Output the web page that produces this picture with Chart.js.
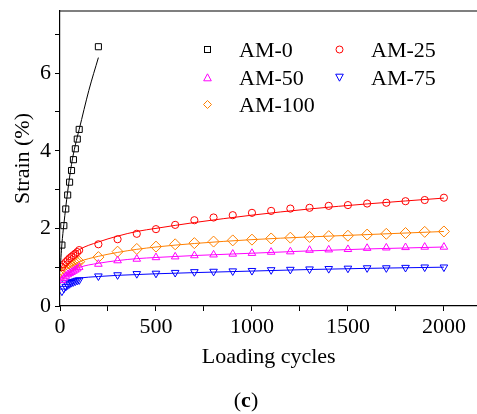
<!DOCTYPE html>
<html>
<head>
<meta charset="utf-8">
<script src="https://cdn.jsdelivr.net/npm/chart.js@4"></script>
<style>
  body { margin: 0; background: #fff; }
  .wrap { position: relative; width: 477px; height: 414px; overflow: hidden; }
  canvas { position: absolute; left: 0; top: 0; }
  .legend { position: absolute; font-family: 'Liberation Serif', serif; font-size: 22px; color: #000; }
  .item { position: absolute; white-space: nowrap; line-height: 22px; }
  .item svg { position: absolute; left: 0; top: 6px; }
  .item span { position: absolute; left: 36px; top: 0; }
  .caption { position: absolute; left: 0; width: 492px; top: 387px; text-align: center;
    font-family: 'Liberation Serif', serif; font-size: 22px; }
</style>
</head>
<body>
<div class="wrap">
  <canvas id="myChart" width="484" height="414"></canvas>
  <div class="legend" id="legend"></div>
  <div class="caption">(<b>c</b>)</div>
</div>
<script>
// measured cycles
const cyclesEarly = [10, 20, 30, 40, 50, 60, 70, 80, 90, 100]
const cyclesAll = [10, 20, 30, 40, 50, 60, 70, 80, 90, 100, 200, 300, 400, 500, 600, 700, 800, 900, 1000,
  1100, 1200, 1300, 1400, 1500, 1600, 1700, 1800, 1900, 2000]
const cyclesAM0 = cyclesEarly.concat([200])

// strain (%) per mix
const strainAM0 = [1.57, 2.07, 2.5, 2.86, 3.19, 3.49, 3.77, 4.05, 4.3, 4.55, 6.68]
const strainAM25 = [1.0, 1.07, 1.13, 1.18, 1.23, 1.27, 1.31, 1.35, 1.39, 1.44,
  1.59, 1.72, 1.86, 1.98, 2.09, 2.21, 2.28, 2.34, 2.40, 2.45, 2.51, 2.53, 2.58, 2.60, 2.64, 2.66, 2.70, 2.73, 2.79]
const strainAM50 = [0.66, 0.72, 0.77, 0.81, 0.84, 0.87, 0.90, 0.93, 0.96, 1.00,
  1.08, 1.17, 1.21, 1.25, 1.27, 1.30, 1.32, 1.34, 1.36, 1.39, 1.40, 1.44, 1.45, 1.46, 1.49, 1.50, 1.51, 1.52, 1.52]
const strainAM75 = [0.38, 0.45, 0.50, 0.54, 0.57, 0.60, 0.62, 0.64, 0.66, 0.67,
  0.77, 0.80, 0.83, 0.84, 0.86, 0.88, 0.89, 0.90, 0.91, 0.93, 0.94, 0.95, 0.96, 0.97, 0.98, 0.98, 0.99, 1.00, 1.00]
const strainAM100 = [0.80, 0.87, 0.92, 0.96, 1.00, 1.03, 1.06, 1.09, 1.12, 1.14,
  1.26, 1.40, 1.47, 1.53, 1.59, 1.62, 1.66, 1.69, 1.71, 1.74, 1.76, 1.78, 1.80, 1.81, 1.84, 1.86, 1.88, 1.91, 1.92]

// fitted curves
const fitX_AM0 = [1, 5, 10, 20, 40, 60, 80, 100, 150, 200]
const fitAM0 = [0.9, 1.25, 1.6, 2.1, 2.95, 3.65, 4.15, 4.55, 5.55, 6.4]
const fitX = [2, 10, 30, 50, 100, 200, 300, 400, 500, 700, 1000, 1300, 1600, 2000]
const fitAM25 = [0.93, 1.03, 1.16, 1.25, 1.45, 1.65, 1.80, 1.92, 2.00, 2.15, 2.34, 2.50, 2.63, 2.78]
const fitAM50 = [0.60, 0.68, 0.78, 0.85, 0.99, 1.10, 1.17, 1.22, 1.25, 1.30, 1.36, 1.42, 1.47, 1.52]
const fitAM75 = [0.58, 0.63, 0.66, 0.68, 0.72, 0.76, 0.79, 0.81, 0.83, 0.86, 0.90, 0.94, 0.97, 1.00]
const fitAM100 = [0.72, 0.82, 0.93, 1.00, 1.14, 1.28, 1.38, 1.46, 1.52, 1.61, 1.71, 1.78, 1.84, 1.92]

const xTicks = [0, 500, 1000, 1500, 2000]
const yTicks = [0, 2, 4, 6]

const series = [
  { label: 'AM-0', x: cyclesAM0, y: strainAM0, fx: fitX_AM0, fy: fitAM0, color: '#000000', style: 'rect', rot: 0, r: 4.3 },
  { label: 'AM-25', x: cyclesAll, y: strainAM25, fx: fitX, fy: fitAM25, color: '#ff0000', style: 'circle', rot: 0, r: 3.6 },
  { label: 'AM-50', x: cyclesAll, y: strainAM50, fx: fitX, fy: fitAM50, color: '#ff00ff', style: 'triangle', rot: 0, r: 4.4 },
  { label: 'AM-75', x: cyclesAll, y: strainAM75, fx: fitX, fy: fitAM75, color: '#0000ff', style: 'triangle', rot: 180, r: 4.4 },
  { label: 'AM-100', x: cyclesAll, y: strainAM100, fx: fitX, fy: fitAM100, color: '#ff8000', style: 'rectRot', rot: 0, r: 5.5 }
]

const toXY = (xs, ys) => xs.map((v, i) => ({ x: v, y: ys[i] }))

let datasets = []
series.forEach(s => {
  datasets.push({
    label: s.label + ' fit',
    data: toXY(s.fx, s.fy),
    showLine: true,
    borderColor: s.color,
    borderWidth: 1,
    pointRadius: 0,
    cubicInterpolationMode: 'monotone',
    fill: false
  })
  datasets.push({
    label: s.label,
    data: toXY(s.x, s.y),
    showLine: false,
    pointStyle: s.style,
    pointRotation: s.rot,
    pointRadius: s.r,
    pointBorderWidth: 1,
    pointBorderColor: s.color,
    pointBackgroundColor: 'rgba(0,0,0,0)'
  })
})

// top frame line
const topLine = {
  id: 'topLine',
  afterDraw(chart) {
    const { ctx, chartArea } = chart
    ctx.save()
    ctx.strokeStyle = '#000'
    ctx.lineWidth = 1.2
    ctx.beginPath()
    ctx.moveTo(chartArea.left, chartArea.top)
    ctx.lineTo(chartArea.right, chartArea.top)
    ctx.stroke()
    ctx.restore()
  }
}

const font = { family: "'Liberation Serif', serif", size: 22 }

function noPad(scale) {
  scale.paddingLeft = 0
  scale.paddingRight = 0
  scale.paddingTop = 0
  scale.paddingBottom = 0
}

new Chart(document.querySelector('#myChart'), {
  type: 'scatter',
  data: { datasets: datasets },
  plugins: [topLine],
  options: {
    responsive: false,
    animation: false,
    layout: { padding: { left: 10, top: 11, right: 0, bottom: 44 } },
    plugins: { legend: { display: false }, tooltip: { enabled: false } },
    scales: {
      x: {
        type: 'linear',
        min: 0,
        max: 2175,
        afterFit: (scale) => { scale.height = 64; noPad(scale) },
        border: { display: true, color: '#000', width: 1.2 },
        grid: { drawOnChartArea: false, drawTicks: true, tickLength: 5, color: '#000' },
        ticks: {
          stepSize: 250,
          includeBounds: false,
          autoSkip: false,
          maxRotation: 0,
          padding: 3,
          color: '#000',
          font: font,
          callback: (v) => xTicks.includes(v) ? String(v) : ''
        },
        title: { display: true, text: 'Loading cycles', color: '#000', font: font, padding: 0 }
      },
      y: {
        min: 0,
        max: 7.6,
        afterFit: (scale) => { scale.width = 50; noPad(scale) },
        border: { display: true, color: '#000', width: 1.2 },
        grid: { drawOnChartArea: false, drawTicks: true, tickLength: 5, color: '#000' },
        ticks: {
          stepSize: 1,
          includeBounds: false,
          autoSkip: false,
          padding: 4,
          color: '#000',
          font: font,
          callback: (v) => yTicks.includes(v) ? String(v) : ''
        },
        title: { display: true, text: 'Strain (%)', color: '#000', font: font, padding: 0 }
      }
    }
  }
})

// legend, two columns inside the plot
const legendPos = [[207, 49], [339, 49], [207, 77], [339, 77], [207, 104]]
const legendOrder = ['AM-0', 'AM-25', 'AM-50', 'AM-75', 'AM-100']
function markerSvg(s) {
  const c = s.color
  let shape = ''
  if (s.style === 'rect') shape = `<rect x="1.5" y="1.5" width="6" height="6" fill="none" stroke="${c}"/>`
  if (s.style === 'circle') shape = `<circle cx="4.5" cy="4.5" r="3.5" fill="none" stroke="${c}"/>`
  if (s.style === 'triangle' && s.rot === 0) shape = `<polygon points="4.5,0.8 8.3,7.8 0.7,7.8" fill="none" stroke="${c}"/>`
  if (s.style === 'triangle' && s.rot === 180) shape = `<polygon points="0.7,1.2 8.3,1.2 4.5,8.2" fill="none" stroke="${c}"/>`
  if (s.style === 'rectRot') shape = `<polygon points="4.5,0.5 8.5,4.5 4.5,8.5 0.5,4.5" fill="none" stroke="${c}"/>`
  return `<svg width="9" height="9">${shape}</svg>`
}
let legendHtml = ''
legendOrder.forEach((name, i) => {
  const s = series.find(d => d.label === name)
  const [lx, ly] = legendPos[i]
  legendHtml += `<div class="item" style="left:${lx - 4}px;top:${ly - 10}px">${markerSvg(s)}<span>${name}</span></div>`
})
document.querySelector('#legend').innerHTML = legendHtml
</script>
</body>
</html>
